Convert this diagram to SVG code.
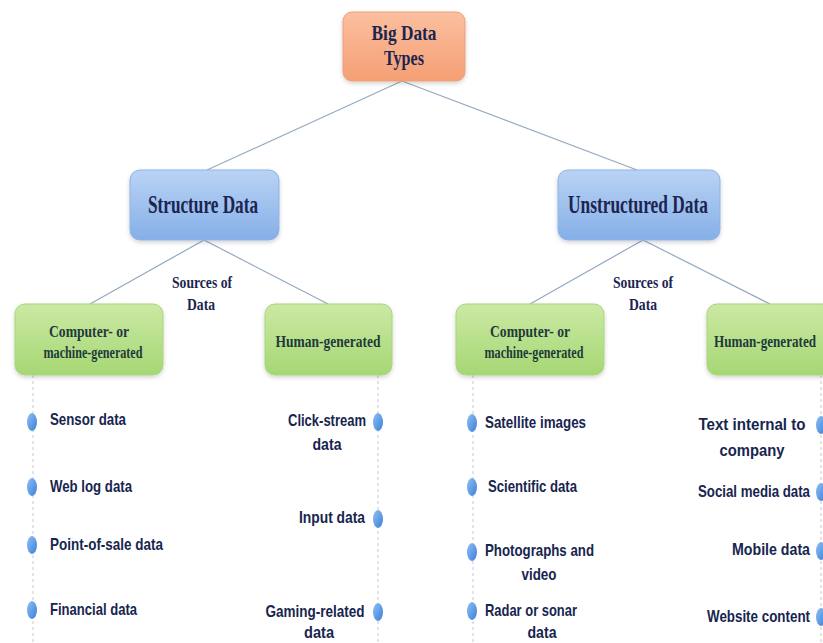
<svg xmlns="http://www.w3.org/2000/svg" width="823" height="643" viewBox="0 0 823 643">
<defs>
<linearGradient id="gOrange" x1="0" y1="0" x2="0" y2="1"><stop offset="0" stop-color="#fbbf9f"/><stop offset="1" stop-color="#f59f74"/></linearGradient>
<linearGradient id="gBlue" x1="0" y1="0" x2="0" y2="1"><stop offset="0" stop-color="#b9d3f4"/><stop offset="1" stop-color="#86afe8"/></linearGradient>
<linearGradient id="gGreen" x1="0" y1="0" x2="0" y2="1"><stop offset="0" stop-color="#cbe9a4"/><stop offset="1" stop-color="#a6d774"/></linearGradient>
<linearGradient id="gDot" x1="0" y1="0" x2="1" y2="1"><stop offset="0" stop-color="#8fc0f5"/><stop offset="1" stop-color="#3b7fd8"/></linearGradient>
<filter id="sh" x="-10%" y="-10%" width="120%" height="130%"><feDropShadow dx="0" dy="2" stdDeviation="2" flood-color="#000" flood-opacity="0.18"/></filter>
</defs>
<style>
.conn{stroke:#93a9c2;stroke-width:1.2;fill:none}
.dash{stroke:#c4c8ce;stroke-width:1;stroke-dasharray:3 3;fill:none}
.orange{fill:url(#gOrange);stroke:#ee9f78;stroke-width:1;filter:url(#sh)}
.blue{fill:url(#gBlue);stroke:#8fb3e6;stroke-width:1;filter:url(#sh)}
.green{fill:url(#gGreen);stroke:#a8d67a;stroke-width:1;filter:url(#sh)}
.ttl{font-family:"Liberation Serif","Times New Roman",serif;font-weight:bold;fill:#1b2550;text-anchor:middle}
.src{font-family:"Liberation Serif","Times New Roman",serif;font-weight:bold;fill:#1b2550;text-anchor:middle;font-size:16px}
.sub{font-family:"Liberation Serif","Times New Roman",serif;font-weight:bold;fill:#1f3a3a;text-anchor:middle;font-size:17px}
.it{font-family:"Liberation Sans","Arial",sans-serif;font-weight:bold;fill:#17254f;font-size:17px}
.r{text-anchor:end}
.m{text-anchor:middle}
.dot{fill:url(#gDot)}
</style>

<g id="connectors">
<line class="conn" x1="402" y1="81" x2="207" y2="170"/>
<line class="conn" x1="402" y1="81" x2="637" y2="170"/>
<line class="conn" x1="204" y1="240" x2="90" y2="304"/>
<line class="conn" x1="204" y1="240" x2="328" y2="304"/>
<line class="conn" x1="643" y1="240" x2="530" y2="304"/>
<line class="conn" x1="643" y1="240" x2="770" y2="304"/>
<line class="dash" x1="33" y1="375" x2="33" y2="643"/>
<line class="dash" x1="378" y1="375" x2="378" y2="643"/>
<line class="dash" x1="473" y1="375" x2="473" y2="643"/>
<line class="dash" x1="821" y1="375" x2="821" y2="643"/>
</g>

<g id="big-data-types">
<rect class="orange" x="343" y="12" width="122" height="69" rx="9"/>
<text class="ttl" x="404" y="40" font-size="21" textLength="65" lengthAdjust="spacingAndGlyphs">Big Data</text>
<text class="ttl" x="404" y="65" font-size="21" textLength="40" lengthAdjust="spacingAndGlyphs">Types</text>
</g>

<g id="structure-data">
<rect class="blue" x="130" y="170" width="149" height="70" rx="10"/>
<text class="ttl" x="203" y="213" font-size="25" textLength="110" lengthAdjust="spacingAndGlyphs">Structure Data</text>
</g>

<g id="unstructured-data">
<rect class="blue" x="558" y="170" width="162" height="70" rx="10"/>
<text class="ttl" x="638" y="213" font-size="25" textLength="140" lengthAdjust="spacingAndGlyphs">Unstructured Data</text>
</g>

<g id="sources-left">
<text class="src" x="202" y="288" textLength="60" lengthAdjust="spacingAndGlyphs">Sources of</text>
<text class="src" x="201" y="310" textLength="28" lengthAdjust="spacingAndGlyphs">Data</text>
</g>
<g id="sources-right">
<text class="src" x="643" y="288" textLength="60" lengthAdjust="spacingAndGlyphs">Sources of</text>
<text class="src" x="643" y="310" textLength="28" lengthAdjust="spacingAndGlyphs">Data</text>
</g>

<g id="s-computer">
<rect class="green" x="15" y="304" width="148" height="71" rx="10"/>
<text class="sub" x="89" y="337" textLength="80" lengthAdjust="spacingAndGlyphs">Computer- or</text>
<text class="sub" x="93" y="358" textLength="99" lengthAdjust="spacingAndGlyphs">machine-generated</text>
</g>

<g id="s-human">
<rect class="green" x="265" y="304" width="127" height="71" rx="10"/>
<text class="sub" x="328" y="347" textLength="105" lengthAdjust="spacingAndGlyphs">Human-generated</text>
</g>

<g id="u-computer">
<rect class="green" x="456" y="304" width="148" height="71" rx="10"/>
<text class="sub" x="530" y="337" textLength="80" lengthAdjust="spacingAndGlyphs">Computer- or</text>
<text class="sub" x="534" y="358" textLength="99" lengthAdjust="spacingAndGlyphs">machine-generated</text>
</g>

<g id="u-human">
<rect class="green" x="707" y="304" width="128" height="71" rx="10"/>
<text class="sub" x="765" y="347" textLength="102" lengthAdjust="spacingAndGlyphs">Human-generated</text>
</g>

<g id="s-computer-items">
<ellipse class="dot" cx="32" cy="422" rx="5" ry="9"/>
<text class="it" x="50" y="425" textLength="76" lengthAdjust="spacingAndGlyphs">Sensor data</text>
<ellipse class="dot" cx="32" cy="487" rx="5" ry="9"/>
<text class="it" x="50" y="492" textLength="82" lengthAdjust="spacingAndGlyphs">Web log data</text>
<ellipse class="dot" cx="32" cy="545" rx="5" ry="9"/>
<text class="it" x="50" y="550" textLength="113" lengthAdjust="spacingAndGlyphs">Point-of-sale data</text>
<ellipse class="dot" cx="32" cy="610" rx="5" ry="9"/>
<text class="it" x="50" y="615" textLength="87" lengthAdjust="spacingAndGlyphs">Financial data</text>
</g>

<g id="s-human-items">
<ellipse class="dot" cx="378" cy="422" rx="5" ry="9"/>
<text class="it m" x="327" y="426" textLength="78" lengthAdjust="spacingAndGlyphs">Click-stream</text>
<text class="it m" x="327" y="450" textLength="29" lengthAdjust="spacingAndGlyphs">data</text>
<ellipse class="dot" cx="378" cy="519" rx="5" ry="9"/>
<text class="it r" x="365" y="523" textLength="66" lengthAdjust="spacingAndGlyphs">Input data</text>
<ellipse class="dot" cx="378" cy="612" rx="5" ry="9"/>
<text class="it m" x="315" y="617" textLength="99" lengthAdjust="spacingAndGlyphs">Gaming-related</text>
<text class="it m" x="319" y="638" textLength="30" lengthAdjust="spacingAndGlyphs">data</text>
</g>

<g id="u-computer-items">
<ellipse class="dot" cx="472" cy="423" rx="5" ry="9"/>
<text class="it" x="485" y="428" textLength="101" lengthAdjust="spacingAndGlyphs">Satellite images</text>
<ellipse class="dot" cx="472" cy="487" rx="5" ry="9"/>
<text class="it" x="488" y="492" textLength="89" lengthAdjust="spacingAndGlyphs">Scientific data</text>
<ellipse class="dot" cx="472" cy="552" rx="5" ry="9"/>
<text class="it" x="485" y="556" textLength="109" lengthAdjust="spacingAndGlyphs">Photographs and</text>
<text class="it m" x="539" y="580" textLength="35" lengthAdjust="spacingAndGlyphs">video</text>
<ellipse class="dot" cx="472" cy="611" rx="5" ry="9"/>
<text class="it" x="485" y="616" textLength="92" lengthAdjust="spacingAndGlyphs">Radar or sonar</text>
<text class="it m" x="542" y="638" textLength="29" lengthAdjust="spacingAndGlyphs">data</text>
</g>

<g id="u-human-items">
<ellipse class="dot" cx="821" cy="425" rx="5" ry="9"/>
<text class="it m" x="752" y="430" textLength="107" lengthAdjust="spacingAndGlyphs">Text internal to</text>
<text class="it m" x="752" y="456" textLength="65" lengthAdjust="spacingAndGlyphs">company</text>
<ellipse class="dot" cx="821" cy="492" rx="5" ry="9"/>
<text class="it r" x="810" y="497" textLength="112" lengthAdjust="spacingAndGlyphs">Social media data</text>
<ellipse class="dot" cx="821" cy="551" rx="5" ry="9"/>
<text class="it r" x="810" y="555" textLength="78" lengthAdjust="spacingAndGlyphs">Mobile data</text>
<ellipse class="dot" cx="821" cy="617" rx="5" ry="9"/>
<text class="it r" x="810" y="622" textLength="103" lengthAdjust="spacingAndGlyphs">Website content</text>
</g>
</svg>
